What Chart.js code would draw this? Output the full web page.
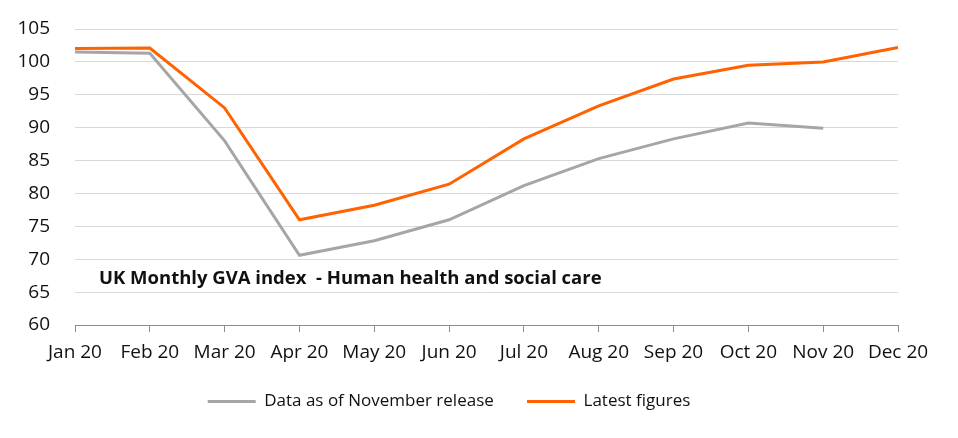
<!DOCTYPE html>
<html>
<head>
<meta charset="utf-8">
<script src="https://cdn.jsdelivr.net/npm/chart.js@4"></script>
<style>
  html, body { margin: 0; padding: 0; background: #fff; }
  #wrap { width: 958px; height: 438px; }
</style>
</head>
<body>
<div id="wrap"><canvas id="gvaChart" width="958" height="438"></canvas></div>
<script>
// ---------------- DATA ----------------
const months = ["Jan 20", "Feb 20", "Mar 20", "Apr 20", "May 20", "Jun 20",
                "Jul 20", "Aug 20", "Sep 20", "Oct 20", "Nov 20", "Dec 20"];

const novemberRelease = [101.5, 101.3, 88.0, 70.6, 72.8, 76.0,
                         81.2, 85.3, 88.3, 90.7, 89.9, null];

const latestFigures = [102.05, 102.1, 93.0, 76.0, 78.2, 81.4,
                       88.3, 93.3, 97.4, 99.5, 100.0, 102.2];

const yTicks = [60, 65, 70, 75, 80, 85, 90, 95, 100, 105];

const chartTitle = "UK Monthly GVA index  - Human health and social care";

const fontFamily = "'Open Sans', 'Noto Sans', sans-serif";

// ---------------- TITLE INSIDE PLOT ----------------
const innerTitle = {
    id: "innerTitle",
    afterDatasetsDraw(chart) {
        const ctx = chart.ctx;
        const y = chart.scales.y.getPixelForValue(67.0);
        ctx.save();
        ctx.font = "bold 18.5px " + fontFamily;
        ctx.fillStyle = "#111";
        ctx.textBaseline = "middle";
        ctx.textAlign = "left";
        ctx.fillText(chartTitle, chart.chartArea.left + 24, y);
        ctx.restore();
    }
};

// ---------------- CHART ----------------
new Chart(document.getElementById("gvaChart"), {
    type: "line",
    data: {
        labels: months,
        datasets: [
            {
                label: "Data as of November release",
                data: novemberRelease,
                borderColor: "#A6A6A6",
                backgroundColor: "#A6A6A6",
                borderWidth: 3,
                pointRadius: 0,
                tension: 0
            },
            {
                label: "Latest figures",
                data: latestFigures,
                borderColor: "#FF6200",
                backgroundColor: "#FF6200",
                borderWidth: 3,
                pointRadius: 0,
                tension: 0
            }
        ]
    },
    options: {
        responsive: false,
        animation: false,
        layout: {
            padding: { top: 29, right: 60, left: 0, bottom: 18 }
        },
        plugins: {
            tooltip: { enabled: false },
            legend: {
                position: "bottom",
                labels: {
                    boxWidth: 48,
                    boxHeight: 3,
                    padding: 20,
                    color: "#111",
                    font: { family: fontFamily, size: 17 },
                    generateLabels(chart) {
                        const items = Chart.defaults.plugins.legend.labels.generateLabels(chart);
                        return items.map((item, i) => Object.assign(item, {
                            lineWidth: 0,
                            text: i === 0 ? item.text + "   " : item.text
                        }));
                    }
                }
            }
        },
        scales: {
            x: {
                grid: {
                    display: true,
                    drawOnChartArea: false,
                    drawTicks: true,
                    tickLength: 7,
                    color: "#8c8c8c"
                },
                border: { display: true, color: "#8c8c8c", width: 1 },
                ticks: {
                    color: "#111",
                    maxRotation: 0,
                    autoSkip: false,
                    padding: 9,
                    font: { family: fontFamily, size: 19 }
                },
                afterFit(scale) { scale.height = 48; }
            },
            y: {
                min: 60,
                max: 105,
                afterBuildTicks(scale) {
                    scale.ticks = yTicks.map(v => ({ value: v }));
                },
                grid: {
                    color: "#d9d9d9",
                    drawTicks: false
                },
                border: { display: false },
                ticks: {
                    color: "#111",
                    padding: 25,
                    font: { family: fontFamily, size: 19 }
                },
                afterFit(scale) {
                    scale.width = 75;
                    // tick padding would otherwise push the plot top down
                    scale.paddingTop = 0;
                    scale.paddingBottom = 0;
                }
            }
        }
    },
    plugins: [innerTitle]
});
</script>
</body>
</html>
